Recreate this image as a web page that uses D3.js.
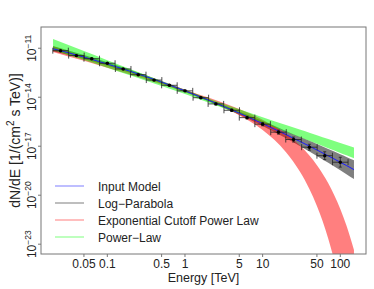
<!DOCTYPE html>
<html>
<head>
<meta charset="utf-8">
<script src="https://cdn.jsdelivr.net/npm/d3@7"></script>
<style>
  body { margin: 0; background: #fff; }
  text { font-family: "Liberation Sans", Arial, Helvetica, sans-serif; fill: #222; }
</style>
</head>
<body>
<svg id="chart" width="374" height="289"></svg>
<script>
// sample energies (TeV) for the model bands
const bandE = [0.02, 0.05, 0.1, 0.2, 0.5, 1, 2, 5, 10, 20, 30, 40, 50, 70, 100, 120, 150];
// band edges, log10 of flux
const logParLo = [-11.189, -11.667, -12.071, -12.512, -13.153, -13.681, -14.246, -15.076, -15.768, -16.517, -16.981, -17.322, -17.593, -18.012, -18.471, -18.711, -19.011];
const logParHi = [-10.869, -11.415, -11.859, -12.332, -13.001, -13.539, -14.104, -14.872, -15.462, -16.061, -16.417, -16.670, -16.869, -17.168, -17.489, -17.653, -17.855];
const ecplLo = [-11.230, -11.770, -12.189, -12.620, -13.215, -13.699, -14.233, -15.100, -16.006, -17.363, -18.527, -19.613, -20.655, -22.662, -25.573, -27.475, -30.290];
const ecplHi = [-10.878, -11.512, -11.985, -12.452, -13.067, -13.536, -14.020, -14.727, -15.377, -16.249, -16.946, -17.571, -18.158, -19.266, -20.841, -21.858, -23.356];
const plawLo = [-11.104, -11.727, -12.200, -12.677, -13.313, -13.806, -14.316, -15.017, -15.563, -16.116, -16.440, -16.671, -16.851, -17.123, -17.411, -17.557, -17.737];
const plawHi = [-10.436, -11.175, -11.734, -12.289, -13.015, -13.554, -14.076, -14.737, -15.223, -15.702, -15.980, -16.177, -16.329, -16.559, -16.801, -16.925, -17.077];
const inputModel = [-11.029, -11.541, -11.965, -12.422, -13.077, -13.610, -14.175, -14.974, -15.615, -16.289, -16.699, -16.996, -17.231, -17.590, -17.980, -18.182, -18.433];

// flux points
const pointE = [0.025, 0.040, 0.063, 0.10, 0.16, 0.25, 0.40, 0.63, 1.0, 1.6, 2.5, 4.0, 6.3, 10, 16, 25, 40, 63, 100];
const pointF = [-11.15, -11.45, -11.64, -11.92, -12.27, -12.62, -12.95, -13.27, -13.61, -14.03, -14.41, -14.80, -15.25, -15.65, -16.14, -16.59, -17.06, -17.58, -17.98];
const pointErr = [0.03, 0.03, 0.03, 0.03, 0.03, 0.03, 0.04, 0.04, 0.05, 0.05, 0.06, 0.07, 0.08, 0.1, 0.12, 0.15, 0.18, 0.24, 0.3];

const xTicks = [0.05, 0.1, 0.5, 1, 5, 10, 50, 100];
const yTicks = [-11, -14, -17, -20, -23];

const legendNames = ['Input Model', 'Log\u2212Parabola', 'Exponential Cutoff Power Law', 'Power\u2212Law'];
const legendColors = ['#a9a9ff', '#a9a9a9', '#ffa9a9', '#a9ffa9'];

function drawChart() {
  const svg = d3.select('#chart');
  const box = { left: 41, top: 27, right: 366, bottom: 254 };

  const x = d3.scaleLog().domain([10 ** -1.854, 10 ** 2.331]).range([box.left, box.right]);
  const y = d3.scaleLog().domain([10 ** -23.6, 10 ** -9.7]).range([box.bottom, box.top]);

  svg.append('defs').append('clipPath').attr('id', 'clip')
    .append('rect')
    .attr('x', box.left).attr('y', box.top)
    .attr('width', box.right - box.left).attr('height', box.bottom - box.top);

  const gPlot = svg.append('g').attr('clip-path', 'url(#clip)');

  function band(lo, hi, color) {
    const area = d3.area()
      .curve(d3.curveMonotoneX)
      .x((d, i) => x(bandE[i]))
      .y0((d, i) => y(10 ** lo[i]))
      .y1((d, i) => y(10 ** hi[i]));
    gPlot.append('path')
      .attr('d', area(bandE))
      .attr('fill', color)
      .attr('fill-opacity', 0.5);
  }
  band(logParLo, logParHi, '#000000');
  band(ecplLo, ecplHi, '#ff0000');
  band(plawLo, plawHi, '#00ff00');

  const line = d3.line()
    .curve(d3.curveMonotoneX)
    .x((d, i) => x(bandE[i]))
    .y(d => y(10 ** d));
  gPlot.append('path')
    .attr('d', line(inputModel))
    .attr('fill', 'none')
    .attr('stroke', '#1a1aff')
    .attr('stroke-width', 1);

  // flux points with error bars
  const pts = pointE.map((e, i) => ({ e, f: pointF[i], err: pointErr[i] }));
  const gPts = gPlot.selectAll('g.pt').data(pts).join('g').attr('class', 'pt');
  const cap = 3;
  gPts.append('path')
    .attr('fill', 'none')
    .attr('stroke', '#222')
    .attr('stroke-width', 0.8)
    .attr('d', (d) => {
      const x0 = x(d.e / 10 ** 0.1);
      const x1 = x(d.e * 10 ** 0.1);
      const xc = x(d.e);
      const yc = y(10 ** d.f);
      const ya = y(10 ** (d.f + d.err));
      const yb = y(10 ** (d.f - d.err));
      return `M${x0},${yc}H${x1}M${x0},${yc - cap}V${yc + cap}M${x1},${yc - cap}V${yc + cap}`
        + `M${xc},${ya}V${yb}M${xc - 1.5},${ya}H${xc + 1.5}M${xc - 1.5},${yb}H${xc + 1.5}`;
    });
  gPts.append('circle')
    .attr('cx', d => x(d.e))
    .attr('cy', d => y(10 ** d.f))
    .attr('r', 1.7)
    .attr('fill', '#000');

  // frame
  svg.append('rect')
    .attr('x', box.left).attr('y', box.top)
    .attr('width', box.right - box.left).attr('height', box.bottom - box.top)
    .attr('fill', 'none')
    .attr('stroke', '#777')
    .attr('stroke-width', 1);

  // x axis
  const gx = svg.append('g').attr('font-size', 12);
  xTicks.forEach((t) => {
    gx.append('line')
      .attr('x1', x(t)).attr('x2', x(t))
      .attr('y1', box.bottom).attr('y2', box.bottom + 3)
      .attr('stroke', '#777');
    gx.append('text')
      .attr('x', x(t)).attr('y', 267.5)
      .attr('text-anchor', 'middle')
      .text(t);
  });
  svg.append('text')
    .attr('x', (box.left + box.right) / 2).attr('y', 282)
    .attr('text-anchor', 'middle')
    .attr('font-size', 12.5)
    .text('Energy [TeV]');

  // y axis
  const gy = svg.append('g').attr('font-size', 12);
  yTicks.forEach((t) => {
    const yy = y(10 ** t);
    gy.append('line')
      .attr('x1', box.left - 3).attr('x2', box.left)
      .attr('y1', yy).attr('y2', yy)
      .attr('stroke', '#777');
    const txt = gy.append('text')
      .attr('transform', `translate(36,${yy}) rotate(-90)`)
      .attr('text-anchor', 'middle');
    txt.append('tspan').text('10');
    txt.append('tspan')
      .attr('font-size', 8.5)
      .attr('dy', -5.5)
      .text(`\u2212${-t}`);
  });
  const yl = svg.append('text')
    .attr('transform', `translate(20,${(box.top + box.bottom) / 2}) rotate(-90)`)
    .attr('text-anchor', 'middle')
    .attr('font-size', 14);
  yl.append('tspan').text('dN/dE [1/(cm');
  yl.append('tspan').attr('font-size', 10).attr('dy', -6).text('2');
  yl.append('tspan').attr('dy', 6).text(' s TeV)]');

  // legend
  const gLeg = svg.append('g').attr('font-size', 12);
  legendNames.forEach((name, i) => {
    const ly = 186 + i * 17;
    gLeg.append('line')
      .attr('x1', 55).attr('x2', 84)
      .attr('y1', ly).attr('y2', ly)
      .attr('stroke', legendColors[i])
      .attr('stroke-width', 1.5);
    gLeg.append('text')
      .attr('x', 98).attr('y', ly + 4.5)
      .text(name);
  });
}
drawChart();
</script>
</body>
</html>
